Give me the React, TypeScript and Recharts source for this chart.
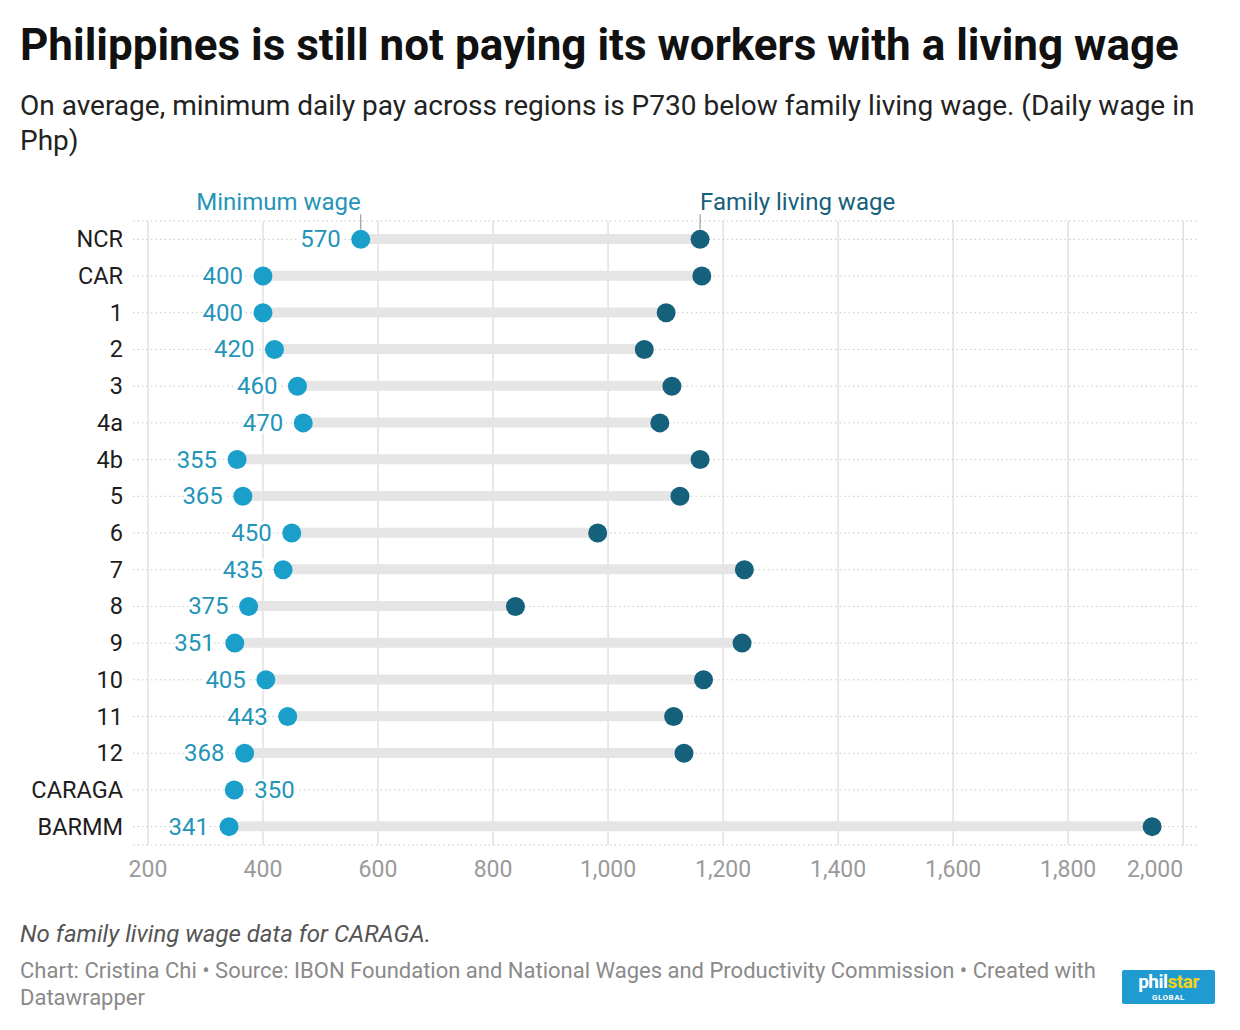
import React from "react";
import {
  Bar,
  CartesianGrid,
  ComposedChart,
  LabelList,
  Line,
  XAxis,
  YAxis,
} from "recharts";

const regions = [
  "NCR", "CAR", "1", "2", "3", "4a", "4b", "5", "6", "7", "8", "9", "10", "11", "12", "CARAGA", "BARMM",
];
const minimumWage = [570, 400, 400, 420, 460, 470, 355, 365, 450, 435, 375, 351, 405, 443, 368, 350, 341];
const familyLivingWage: (number | null)[] = [
  1160, 1163, 1101, 1063, 1111, 1090, 1160, 1125, 982, 1237, 839, 1233, 1166, 1114, 1132, null, 1946,
];
const xTicks = [200, 400, 600, 800, 1000, 1200, 1400, 1600, 1800, 2000];
const xDomain: [number, number] = [174, 2024];

const MIN_COLOR = "#1a9fcb";
const MIN_TEXT = "#2495b9";
const FAMILY_COLOR = "#15607a";
const FONT = "Roboto, 'Noto Sans', sans-serif";

const chartData = regions.map((region, i) => ({
  region,
  min: minimumWage[i],
  family: familyLivingWage[i],
}));

function rangeKey(d: { min: number; family: number | null }) {
  return d.family == null ? null : [d.min, d.family];
}

function fmt(v: number) {
  return v.toLocaleString("en-US");
}

// vertical grid only at the tick values, not at the plot edges
function tickLines(props: any) {
  const scale = props?.xAxis?.scale;
  if (typeof scale === "function") {
    const pts = xTicks.map((t) => scale(t)).filter((v) => Number.isFinite(v));
    if (pts.length) return pts;
  }
  const off = props?.offset;
  if (off && Number.isFinite(off.left) && Number.isFinite(off.width)) {
    return xTicks.map((t) => off.left + ((t - xDomain[0]) / (xDomain[1] - xDomain[0])) * off.width);
  }
  return [];
}

function RegionTick(props: any) {
  const { x, y, payload } = props;
  return (
    <text x={x} y={y} dy={8} textAnchor="end" fontSize={23.5} fill="#1d1d1d" fontFamily={FONT}>
      {payload.value}
    </text>
  );
}

function ValueTick(props: any) {
  const { x, y, payload } = props;
  const last = payload.value === xTicks[xTicks.length - 1];
  return (
    <text
      x={x}
      y={y}
      dy={8}
      textAnchor={last ? "end" : "middle"}
      fontSize={23}
      fill="#9a9a9a"
      fontFamily={FONT}
    >
      {fmt(payload.value)}
    </text>
  );
}

function MinLabel(props: any) {
  const { x, y, value, index } = props;
  const right = regions[index] === "CARAGA";
  const tx = right ? x + 20 : x - 20;
  return (
    <g>
      <text
        x={tx}
        y={y}
        dy={8}
        textAnchor={right ? "start" : "end"}
        fontSize={24}
        fill={MIN_TEXT}
        fontFamily={FONT}
        stroke="#fff"
        strokeWidth={5}
        paintOrder="stroke"
      >
        {value}
      </text>
      {index === 0 && (
        <g>
          <line x1={x} x2={x} y1={y - 25} y2={y - 10} stroke="#888" strokeWidth={1} />
          <text x={x} y={y - 29} textAnchor="end" fontSize={24} fill={MIN_TEXT} fontFamily={FONT}>
            Minimum wage
          </text>
        </g>
      )}
    </g>
  );
}

function FamilyLabel(props: any) {
  const { x, y, index } = props;
  if (index !== 0) return null;
  return (
    <g>
      <line x1={x} x2={x} y1={y - 25} y2={y - 10} stroke="#888" strokeWidth={1} />
      <text x={x} y={y - 29} textAnchor="start" fontSize={24} fill={FAMILY_COLOR} fontFamily={FONT}>
        Family living wage
      </text>
    </g>
  );
}

export default function App() {
  return (
    <div
      style={{
        position: "absolute",
        left: 0,
        top: 0,
        width: 1240,
        height: 1030,
        background: "#fff",
        fontFamily: FONT,
        overflow: "hidden",
      }}
    >
      <div
        style={{
          position: "absolute",
          left: 20,
          top: 18,
          fontSize: 44,
          fontWeight: 700,
          color: "#111",
          lineHeight: "54px",
          whiteSpace: "nowrap",
        }}
      >
        Philippines is still not paying its workers with a living wage
      </div>
      <div
        style={{
          position: "absolute",
          left: 20,
          top: 88,
          width: 1200,
          fontSize: 28,
          color: "#222",
          lineHeight: "35px",
        }}
      >
        On average, minimum daily pay across regions is P730 below family living wage. (Daily wage in Php)
      </div>

      <div style={{ position: "absolute", left: 0, top: 0 }}>
        <ComposedChart
          width={1240}
          height={900}
          data={chartData}
          layout="vertical"
          margin={{ top: 221, right: 43, bottom: 25, left: 13 }}
          barCategoryGap={0}
        >
          <CartesianGrid
            horizontal={false}
            stroke="#e1e1e1"
            strokeWidth={1.5}
            verticalCoordinatesGenerator={tickLines}
          />
          <CartesianGrid vertical={false} stroke="#c8c8c8" strokeDasharray="1.5 3" />
          <XAxis
            type="number"
            domain={xDomain}
            ticks={xTicks}
            allowDataOverflow
            axisLine={false}
            tickLine={false}
            tickSize={0}
            tickMargin={24}
            height={30}
            tick={<ValueTick />}
          />
          <YAxis
            type="category"
            dataKey="region"
            width={120}
            axisLine={false}
            tickLine={false}
            tickSize={0}
            tickMargin={10}
            interval={0}
            tick={<RegionTick />}
          />
          <Bar dataKey={rangeKey} barSize={10} fill="#e5e5e5" isAnimationActive={false} />
          <Line
            dataKey="family"
            stroke="none"
            connectNulls={false}
            dot={{ r: 9.5, fill: FAMILY_COLOR, stroke: "none" }}
            activeDot={false}
            isAnimationActive={false}
          >
            <LabelList dataKey="family" content={<FamilyLabel />} />
          </Line>
          <Line
            dataKey="min"
            stroke="none"
            dot={{ r: 9.5, fill: MIN_COLOR, stroke: "none" }}
            activeDot={false}
            isAnimationActive={false}
          >
            <LabelList dataKey="min" content={<MinLabel />} />
          </Line>
        </ComposedChart>
      </div>

      <div
        style={{
          position: "absolute",
          left: 20,
          top: 918,
          fontSize: 24,
          fontStyle: "italic",
          color: "#555",
          lineHeight: "32px",
        }}
      >
        No family living wage data for CARAGA.
      </div>
      <div
        style={{
          position: "absolute",
          left: 20,
          top: 957,
          width: 1090,
          fontSize: 22,
          color: "#8a8a8a",
          lineHeight: "27px",
        }}
      >
        Chart: Cristina Chi • Source: IBON Foundation and National Wages and Productivity Commission • Created with
        Datawrapper
      </div>
      <div
        style={{
          position: "absolute",
          left: 1122,
          top: 970,
          width: 93,
          height: 34,
          background: "#1f9bd1",
          borderRadius: 2,
          color: "#fff",
        }}
      >
        <div
          style={{
            position: "absolute",
            left: 0,
            top: 2,
            width: 93,
            textAlign: "center",
            fontSize: 19,
            lineHeight: "20px",
            fontWeight: 700,
            letterSpacing: -0.5,
          }}
        >
          phil<span style={{ color: "#f3d21b" }}>star</span>
        </div>
        <div
          style={{
            position: "absolute",
            left: 0,
            top: 23,
            width: 93,
            textAlign: "center",
            fontSize: 8,
            lineHeight: "9px",
            fontWeight: 700,
            letterSpacing: 0.5,
          }}
        >
          GLOBAL
        </div>
      </div>
    </div>
  );
}
